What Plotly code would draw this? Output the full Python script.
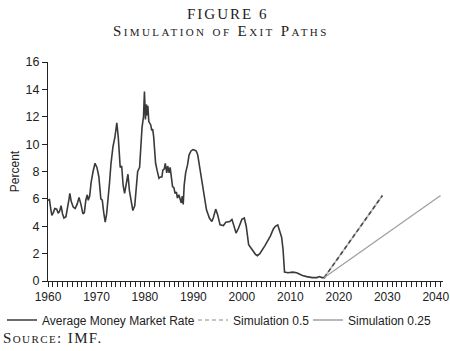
import plotly.graph_objects as go

years = [1960.0,1960.3,1960.6,1960.8,1961.1,1961.4,1961.8,1962.1,1962.4,1962.7,1963.0,1963.3,1963.7,1964.0,1964.3,1964.5,1964.8,1965.2,1965.6,1966.0,1966.4,1966.8,1967.2,1967.5,1967.8,1968.1,1968.3,1968.6,1968.9,1969.3,1969.7,1970.1,1970.5,1970.9,1971.2,1971.5,1971.8,1972.1,1972.4,1972.7,1973.0,1973.4,1973.8,1974.2,1974.5,1974.9,1975.2,1975.5,1975.8,1976.2,1976.5,1976.8,1977.1,1977.5,1977.9,1978.2,1978.5,1978.9,1979.1,1979.4,1979.7,1979.9,1980.1,1980.3,1980.5,1980.6,1980.8,1981.2,1981.4,1981.6,1981.8,1982.0,1982.2,1982.5,1982.9,1983.2,1983.5,1983.7,1984.0,1984.2,1984.5,1984.7,1985.0,1985.2,1985.5,1985.7,1986.0,1986.2,1986.5,1986.7,1987.0,1987.2,1987.5,1987.7,1987.9,1988.1,1988.4,1988.8,1989.1,1989.5,1989.9,1990.3,1990.6,1990.9,1991.4,1991.9,1992.4,1992.7,1993.3,1993.8,1994.1,1994.6,1995.0,1995.5,1996.2,1996.7,1997.5,1997.95,1998.3,1998.8,1999.3,2000.0,2000.5,2000.9,2001.4,2001.9,2002.8,2003.2,2003.7,2004.8,2005.3,2005.9,2006.5,2006.9,2007.4,2007.8,2008.2,2008.5,2008.8,2009.5,2010.5,2011.3,2011.8,2012.5,2013.4,2014.5,2015.5,2016.0,2016.5,2017.2]
rate = [5.9,5.95,5.2,4.8,5.0,5.3,5.25,4.95,5.1,5.5,4.9,4.6,4.7,5.2,5.9,6.4,5.8,5.4,5.3,5.6,6.1,5.6,4.9,5.0,5.9,6.3,5.9,6.2,7.2,8.0,8.6,8.3,7.6,6.0,5.9,5.0,4.3,4.9,6.4,7.2,8.6,9.8,10.5,11.55,10.5,8.3,8.4,7.0,6.4,7.1,7.8,6.6,5.8,5.15,5.5,6.5,8.0,8.3,9.5,11.2,12.0,13.85,11.8,12.9,12.1,12.8,11.65,11.4,11.0,11.1,10.55,9.6,8.6,8.1,7.5,7.6,7.6,8.1,8.2,8.6,7.9,8.4,7.9,8.3,7.6,6.9,6.8,6.4,6.5,6.05,6.3,6.0,5.7,6.2,5.6,7.0,7.9,8.5,9.2,9.5,9.6,9.55,9.5,9.2,8.1,7.3,6.2,5.2,4.6,4.35,4.6,5.25,4.85,4.1,4.05,4.3,4.35,4.5,4.1,3.5,3.85,4.5,4.6,4.0,2.65,2.4,1.95,1.85,2.0,2.6,2.9,3.3,3.8,4.0,4.1,3.6,3.2,2.3,0.65,0.6,0.65,0.6,0.5,0.4,0.32,0.25,0.25,0.32,0.25,0.25]

sim05_years = [2017, 2029]
sim05_vals = [0.25, 6.25]
sim025_years = [2017, 2041]
sim025_vals = [0.25, 6.25]

x_ticks = [1960, 1970, 1980, 1990, 2000, 2010, 2020, 2030, 2040]
y_ticks = [0, 2, 4, 6, 8, 10, 12, 14, 16]

SERIF = "Liberation Serif, Times New Roman, serif"

fig = go.Figure()
fig.add_trace(go.Scatter(x=years, y=rate, mode="lines", name="Average Money Market Rate",
                         line=dict(color="#3a3a3a", width=1.6), legend="legend"))
fig.add_trace(go.Scatter(x=sim05_years, y=sim05_vals, mode="lines", showlegend=False,
                         line=dict(color="#b8b8b8", width=1.6), hoverinfo="skip"))
fig.add_trace(go.Scatter(x=sim05_years, y=sim05_vals, mode="lines", showlegend=False,
                         line=dict(color="#4a4a4a", width=1.6, dash="4px,3px"), hoverinfo="skip"))
fig.add_trace(go.Scatter(x=[None], y=[None], mode="lines", name="Simulation 0.5",
                         line=dict(color="#b0b0b0", width=1.4, dash="4px,3px"), legend="legend2"))
fig.add_trace(go.Scatter(x=sim025_years, y=sim025_vals, mode="lines", name="Simulation 0.25",
                         line=dict(color="#a0a0a0", width=1.3), legend="legend3"))

leg_y = 1 - 320 / 351
def leg(xpix):
    return dict(orientation="h", xref="container", yref="container",
                x=xpix / 450, y=leg_y, xanchor="left", yanchor="middle",
                font=dict(size=12, color="#222"), itemwidth=30,
                bgcolor="rgba(0,0,0,0)")

fig.update_layout(
    width=450, height=351,
    paper_bgcolor="white", plot_bgcolor="white",
    margin=dict(l=48, r=7, t=62, b=70, autoexpand=False),
    font=dict(family="Liberation Sans, Arial, sans-serif", size=12, color="#222"),
    showlegend=True,
    legend=leg(2), legend2=leg(193), legend3=leg(308),
)
fig.update_xaxes(range=[1960, 2041.5], tickvals=x_ticks, ticks="outside", ticklen=5,
                 tickcolor="#222", showline=True, linecolor="#222", linewidth=1,
                 showgrid=False, zeroline=False, tickfont=dict(size=12),
                 minor=dict(dtick=1, tick0=1960, ticks="outside", ticklen=5, tickcolor="#222", showgrid=False))
fig.update_yaxes(range=[0, 16], tickvals=y_ticks, ticks="outside", ticklen=5,
                 tickcolor="#222", showline=True, linecolor="#222", linewidth=1,
                 showgrid=False, zeroline=False, tickfont=dict(size=12.5),
                 title=dict(text="Percent", font=dict(size=12), standoff=3))

fig.add_annotation(text='<span style="letter-spacing:2px">FIGURE 6</span>',
                   xref="paper", yref="paper", x=0.4544, y=1.2169,
                   xanchor="center", yanchor="middle", showarrow=False,
                   font=dict(family=SERIF, size=15, color="#222"))
fig.add_annotation(text='<span style="letter-spacing:2.4px">Simulation of Exit Paths</span>',
                   xref="paper", yref="paper", x=0.4392, y=1.1406,
                   xanchor="center", yanchor="middle", showarrow=False,
                   font=dict(family=SERIF, size=15, color="#222", variant="small-caps"))
fig.add_annotation(text='<span style="letter-spacing:1.4px">Source: IMF.</span>',
                   xref="paper", yref="paper", x=-0.118, y=-0.262,
                   xanchor="left", yanchor="middle", showarrow=False,
                   font=dict(family=SERIF, size=15, color="#222", variant="small-caps"))
fig.write_html("out.html")
